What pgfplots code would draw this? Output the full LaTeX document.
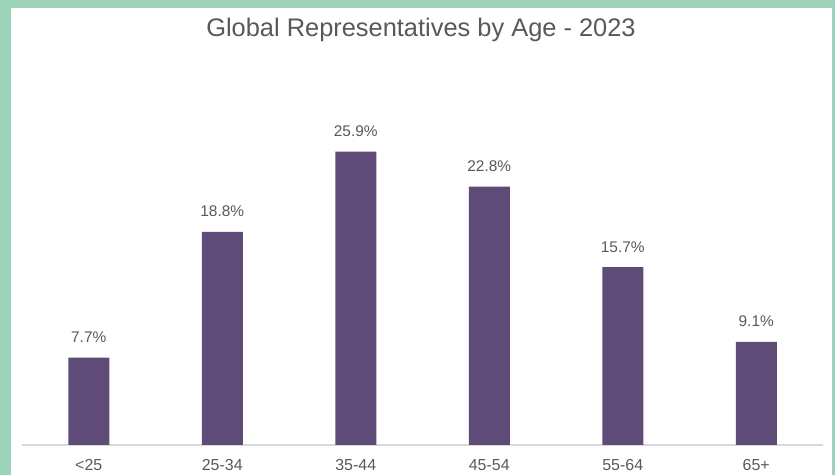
\documentclass[border=0pt]{standalone}
\usepackage{fontspec}
\setmainfont{Liberation Sans}
\usepackage{pgfplots}
\pgfplotsset{compat=1.18}
\definecolor{frame}{HTML}{9DD3B8}
\definecolor{barc}{HTML}{5E4B77}
\definecolor{txt}{HTML}{595959}
\definecolor{axline}{HTML}{D9D9D9}
\begin{document}
\begin{tikzpicture}[x=1bp,y=1bp]
\useasboundingbox (0,0) rectangle (835,475);
\clip (0,0) rectangle (835,475);
\fill[frame] (0,0) rectangle (835,475);
\fill[white] (11,-5) rectangle (832,467);
\node[text=txt, anchor=base, font=\fontsize{25.5}{30}\selectfont] at (421,438) {Global Representatives by Age - 2023};
\begin{axis}[
  at={(22bp,30bp)}, anchor=south west,
  scale only axis, width=801bp, height=396.6bp,
  xmin=-0.5, xmax=5.5, ymin=0, ymax=35,
  axis x line*=bottom, axis y line=none,
  x axis line style={-, draw=axline, line width=1.2bp},
  xtick={0,1,2,3,4,5},
  xticklabels={{<25},{25-34},{35-44},{45-54},{55-64},{65+}},
  major tick length=0pt,
  xticklabel style={anchor=base, yshift=-26bp, text=txt, font=\fontsize{16}{19}\selectfont},
  ybar, bar width=41bp,
  nodes near coords={\pgfmathprintnumber[fixed,fixed zerofill,precision=1]{\pgfplotspointmeta}\%},
  nodes near coords style={anchor=base, yshift=15bp, text=txt, font=\fontsize{15.5}{18}\selectfont},
  /pgf/number format/assume math mode=true,
  clip=false,
]
\addplot[fill=barc, draw=none] coordinates {(0,7.7) (1,18.8) (2,25.9) (3,22.8) (4,15.7) (5,9.1)};
\end{axis}
\end{tikzpicture}
\end{document}
